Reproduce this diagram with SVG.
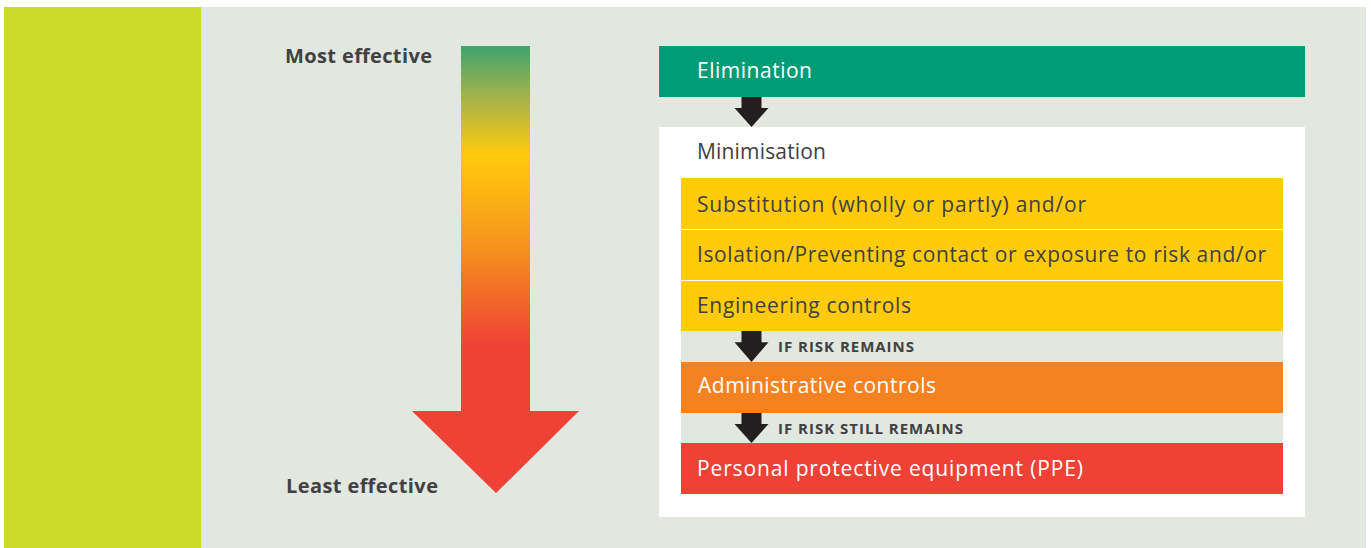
<svg xmlns="http://www.w3.org/2000/svg" width="1371" height="548" viewBox="0 0 1371 548">
<style>
.t{font-family:"Open Sans","Liberation Sans",sans-serif;font-size:21px;fill:#414042}
.w{fill:#ffffff}
.b{font-family:"Open Sans","Liberation Sans",sans-serif;font-weight:bold;fill:#414042}
.arr{fill:#231F20}
</style>
<defs>
<linearGradient id="g" gradientUnits="userSpaceOnUse" x1="0" y1="46" x2="0" y2="493">
<stop offset="0" stop-color="#3FA46C"/>
<stop offset="0.12" stop-color="#A9B34A"/>
<stop offset="0.245" stop-color="#FFCB0A"/>
<stop offset="0.45" stop-color="#F6921E"/>
<stop offset="0.67" stop-color="#EF4136"/>
<stop offset="1" stop-color="#EF4136"/>
</linearGradient>
<path id="da" d="M-10 0 H10 V11 H17 L0 30 L-17 11 H-10 Z"/>
</defs>
<rect x="0" y="0" width="1371" height="548" fill="#ffffff"/>
<rect x="4" y="7" width="1362" height="541" fill="#E2E7E0"/>
<rect x="4" y="7" width="197" height="541" fill="#CBDB2A"/>

<g id="scale">
<path d="M461 46 H530 V411 H579 L496 493 L412 411 H461 Z" fill="url(#g)"/>
<text class="b" x="285" y="63" font-size="20" textLength="147">Most effective</text>
<text class="b" x="286" y="493" font-size="20" textLength="152">Least effective</text>
</g>

<g id="elimination">
<rect x="659" y="46" width="646" height="51" fill="#009B77"/>
<text class="t w" x="697" y="78" textLength="115">Elimination</text>
</g>

<g id="minimisation">
<rect x="659" y="127" width="646" height="390" fill="#ffffff"/>
<text class="t" x="697" y="159" textLength="129">Minimisation</text>
<rect x="681" y="331" width="602" height="31" fill="#E2E7E0"/>
<rect x="681" y="413" width="602" height="30" fill="#E2E7E0"/>
</g>

<g id="substitution">
<rect x="681" y="178" width="602" height="51" fill="#FFCB0A"/>
<text class="t" x="697" y="212" textLength="389">Substitution (wholly or partly) and/or</text>
</g>
<g id="isolation">
<rect x="681" y="230" width="602" height="50" fill="#FFCB0A"/>
<text class="t" x="697" y="262" textLength="569">Isolation/Preventing contact or exposure to risk and/or</text>
</g>
<g id="engineering">
<rect x="681" y="281" width="602" height="50" fill="#FFCB0A"/>
<text class="t" x="697" y="313" textLength="214">Engineering controls</text>
</g>
<g id="administrative">
<rect x="681" y="362" width="602" height="51" fill="#F58220"/>
<text class="t w" x="698" y="393" textLength="238">Administrative controls</text>
</g>
<g id="ppe">
<rect x="681" y="443" width="602" height="51" fill="#EF4136"/>
<text class="t w" x="697" y="476" textLength="386">Personal protective equipment (PPE)</text>
</g>

<g id="connectors">
<use href="#da" class="arr" transform="translate(751.5 97)"/>
<use href="#da" class="arr" transform="translate(751.5 331) scale(1 1.033)"/>
<use href="#da" class="arr" transform="translate(751.5 413)"/>
<text class="b" x="778" y="352" font-size="15" textLength="136">IF RISK REMAINS</text>
<text class="b" x="778" y="434" font-size="15" textLength="185">IF RISK STILL REMAINS</text>
</g>
</svg>
